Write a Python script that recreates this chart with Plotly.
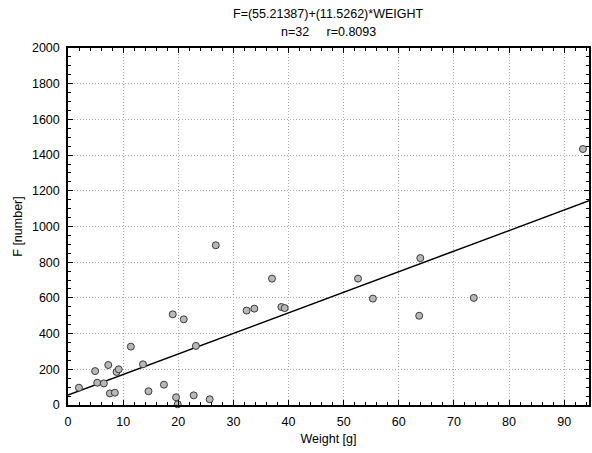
import plotly.graph_objects as go

weight = [1.98, 4.92, 5.3, 6.5, 7.3, 7.6, 8.5, 8.8, 9.2, 11.4, 13.6, 14.6, 17.4,
          19.0, 19.6, 19.9, 21.0, 22.8, 23.2, 25.7, 26.8, 32.4, 33.8, 37.0,
          38.7, 39.3, 52.6, 55.3, 63.9, 63.7, 73.6, 93.4]
f_number = [97, 190, 125, 121, 224, 65, 69, 185, 200, 327, 228, 77, 114,
            508, 43, 4, 480, 54, 331, 32, 895, 529, 540, 708,
            549, 543, 708, 596, 823, 500, 600, 1434]

intercept = 55.21387
slope = 11.5262
x_range = [0, 94.5]
y_range = [0, 2000]
title_lines = ["F=(55.21387)+(11.5262)*WEIGHT", "n=32     r=0.8093"]

font = "Liberation Sans, Arial, sans-serif"

fig = go.Figure()
line_x = x_range
line_y = [intercept + slope * x for x in line_x]
fig.add_trace(go.Scatter(x=line_x, y=line_y, mode="lines",
                         line=dict(color="black", width=1.5),
                         showlegend=False, hoverinfo="skip"))
fig.add_trace(go.Scatter(x=weight, y=f_number, mode="markers",
                         marker=dict(size=7, color="#b8b8b8",
                                     line=dict(color="#3a3a3a", width=1)),
                         cliponaxis=False, showlegend=False))

axis_common = dict(
    showline=True, linecolor="black", linewidth=1.5, mirror="ticks",
    ticks="inside", ticklen=5, tickcolor="black", tickwidth=1,
    showgrid=True, gridcolor="#a8a8a8", griddash="1px,2px", gridwidth=1,
    zeroline=False, tickfont=dict(family=font, size=12.5, color="black"),
    ticklabelstandoff=4,
)

fig.update_xaxes(range=x_range, dtick=10, tick0=0,
                 minor=dict(dtick=2, ticks="inside", ticklen=3, tickcolor="black", showgrid=False),
                 title=dict(text="Weight [g]", font=dict(family=font, size=12.5, color="black"),
                            standoff=6),
                 **axis_common)
fig.update_yaxes(range=y_range, dtick=200, tick0=0,
                 minor=dict(dtick=50, ticks="inside", ticklen=3, tickcolor="black", showgrid=False),
                 title=dict(text="F [number]", font=dict(family=font, size=12.5, color="black"),
                            standoff=7),
                 **axis_common)

for txt, ypos in zip(title_lines, [1.0952, 1.0448]):
    fig.add_annotation(text=txt, xref="paper", yref="paper", x=0.5, y=ypos,
                       xanchor="center", yanchor="middle", showarrow=False,
                       font=dict(family=font, size=12.5, color="black"))

fig.update_layout(
    width=592, height=453,
    margin=dict(l=68, r=1, t=48, b=48),
    paper_bgcolor="white", plot_bgcolor="white",
    font=dict(family=font, size=12.5, color="black"),
)

fig.write_html("out.html", config={"displayModeBar": False},
               post_script="document.body.style.margin='0';")
